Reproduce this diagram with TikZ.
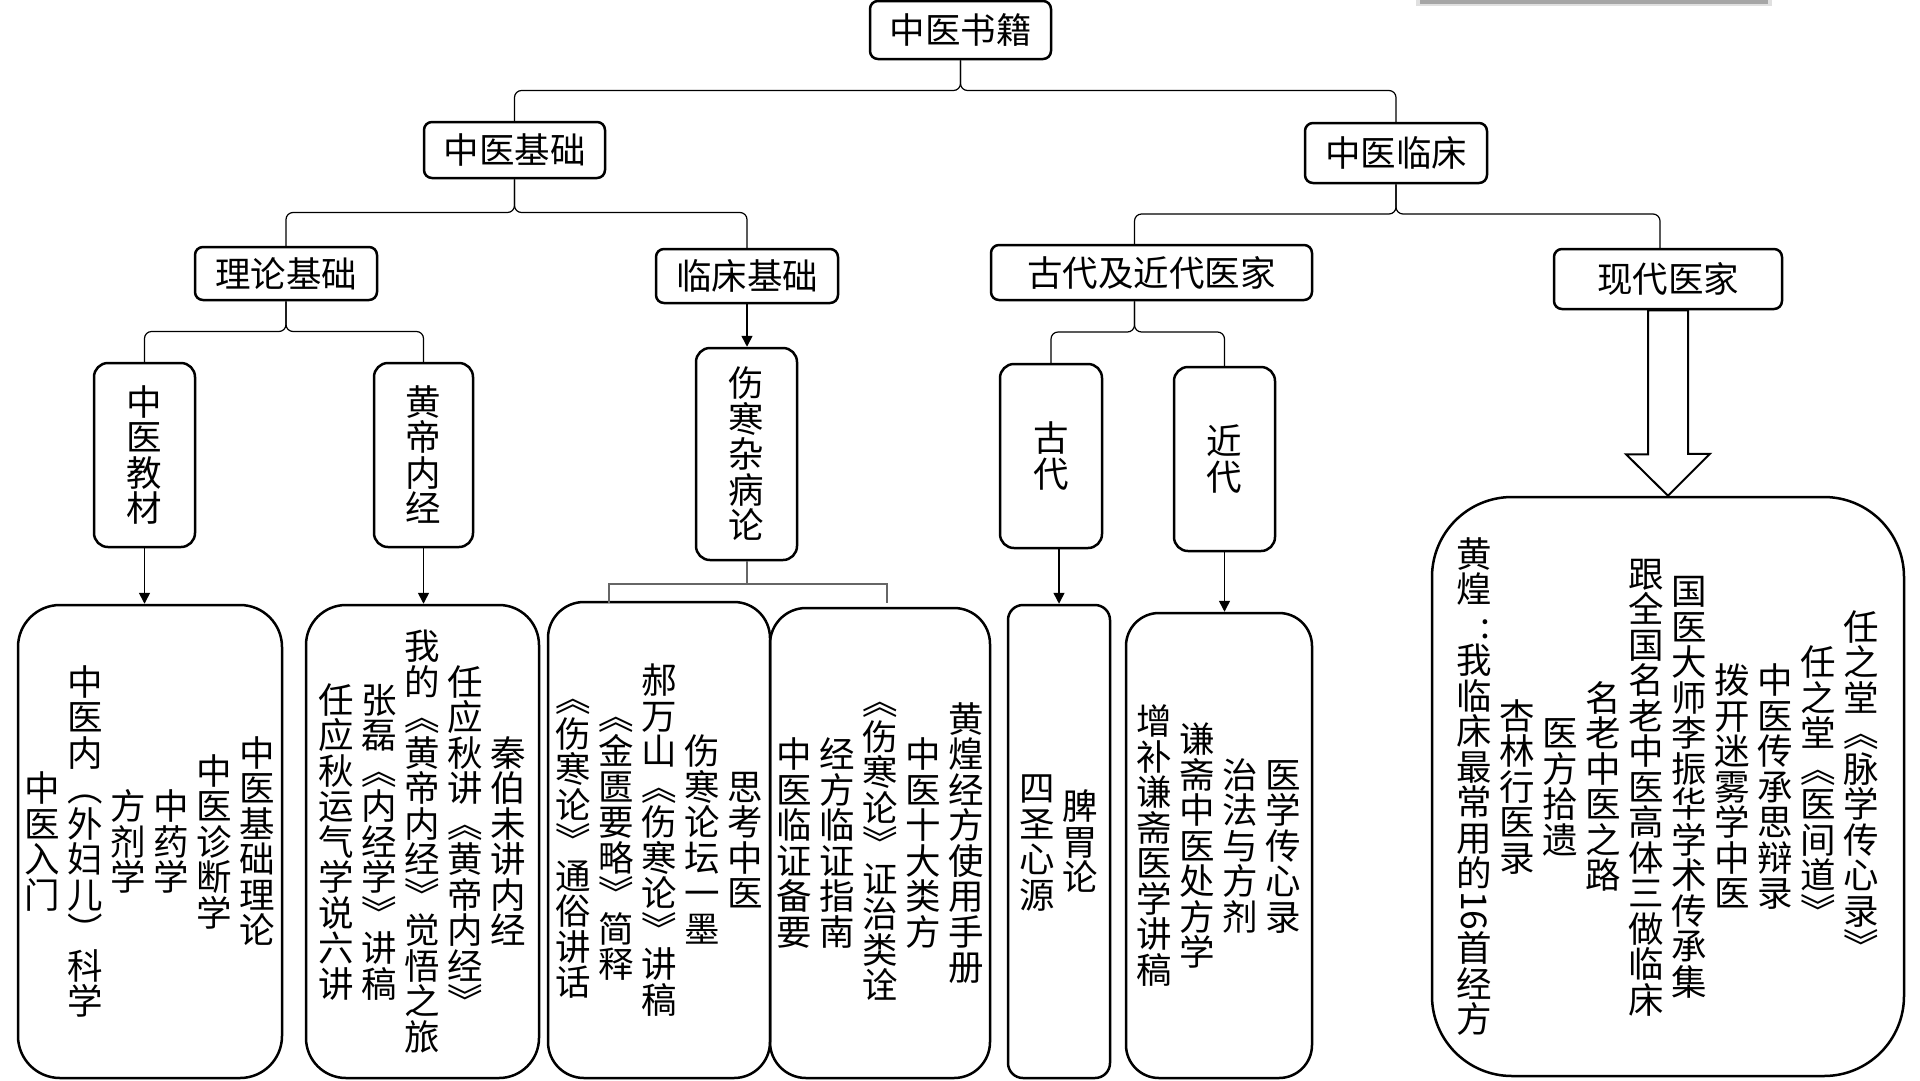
\documentclass[tikz,border=0pt]{standalone}
\usepackage{fontspec}
\usepackage{graphicx}
\newfontfamily\cjkfont{Noto Sans CJK SC}
\usetikzlibrary{arrows.meta,calc}

% vertical columns, first column on the right
\ExplSyntaxOn
\seq_new:N \l__vt_cols_seq
\cs_new_protected:Npn \__vt_column:n #1
  {
    \hbox_to_wd:nn { 43pt }
      {
        \hss
        \vbox_to_ht:nn { 540pt }
          {
            \vss
            \offinterlineskip
            \tl_map_inline:nn {#1}
              {
                \hbox_to_wd:nn { 1em }
                  { \hss \tex_vrule:D height .88em depth .12em width \c_zero_dim \scan_stop: ##1 \hss }
              }
            \vss
          }
        \hss
      }
  }
\NewDocumentCommand \vtext { m }
  {
    \seq_set_from_clist:Nn \l__vt_cols_seq {#1}
    \seq_reverse:N \l__vt_cols_seq
    \hbox:n { \seq_map_function:NN \l__vt_cols_seq \__vt_column:n }
  }
\ExplSyntaxOff
\newcommand\sidenum[1]{\rotatebox[origin=c]{-90}{#1}}

\begin{document}
\begin{tikzpicture}[x=1pt,y=-1pt,
    box/.style={draw, line width=2.5pt, rounded corners=8pt, inner sep=0pt,
      font=\cjkfont\fontsize{35.5pt}{43pt}\selectfont},
    vbox/.style={draw, line width=2.5pt, rounded corners=14pt, inner sep=0pt},
    vtxt/.style={inner sep=0pt, font=\cjkfont\fontsize{35.5pt}{35.5pt}\selectfont},
    brace/.style={line width=1.2pt, rounded corners=7pt},
    arr/.style={line width=1.5pt, -{Triangle[length=11pt,width=11pt]}},
    fork/.style={line width=2pt, black!60},
    fatarr/.style={line width=2pt, fill=white, miter limit=10}]
    \useasboundingbox[fill=white] (0,0) rectangle (1920,1080);

    % Shadow at the top
    \fill[black!12] (1416,0) rectangle (1772,6);
    \fill[black!35] (1420,0) rectangle (1768,3.5);

    % Title levels
    \node[box, minimum width=181pt, minimum height=58pt] (root) at (960.5,30) {中医书籍};
    \node[box, minimum width=181pt, minimum height=56pt] (base) at (514.5,150) {中医基础};
    \node[box, minimum width=182pt, minimum height=60pt] (clin) at (1396,153) {中医临床};
    \node[box, minimum width=182pt, minimum height=53pt] (theory) at (286,273.5) {理论基础};
    \node[box, minimum width=182pt, minimum height=54pt] (practice) at (747,276) {临床基础};
    \node[box, minimum width=321pt, minimum height=55pt] (doctors) at (1151.5,272.5) {古代及近代医家};
    \node[box, minimum width=228pt, minimum height=60pt] (modern) at (1668,279) {现代医家};

    % Vertical labels
    \node[vbox, minimum width=101pt, minimum height=184pt] (textbook) at (144.5,455) {};
    \node[vtxt] (textbook-t) at (textbook) {\vtext{中医教材}};
    \node[vbox, minimum width=99pt, minimum height=184pt] (neijing) at (423.5,455) {};
    \node[vtxt] (neijing-t) at (neijing) {\vtext{黄帝内经}};
    \node[vbox, minimum width=101pt, minimum height=212pt] (shanghan) at (746.5,454) {};
    \node[vtxt] (shanghan-t) at (shanghan) {\vtext{伤寒杂病论}};
    \node[vbox, minimum width=102pt, minimum height=184pt] (ancient) at (1051,456) {};
    \node[vtxt] (ancient-t) at (ancient) {\vtext{古代}};
    \node[vbox, minimum width=101pt, minimum height=184pt] (recent) at (1224.5,459) {};
    \node[vtxt] (recent-t) at (recent) {\vtext{近代}};

    % Book lists
    \node[vbox, rounded corners=42pt, minimum width=264pt, minimum height=473pt] (textbook-list) at (150,841.5) {};
    \node[vtxt] (textbook-list-t) at (textbook-list)
      {\vtext{中医基础理论,中医诊断学,中药学,方剂学,中医内︵外妇儿︶科学,中医入门}};
    \node[vbox, rounded corners=40pt, minimum width=233pt, minimum height=473pt] (neijing-list) at (422.5,841.5) {};
    \node[vtxt] (neijing-list-t) at (neijing-list)
      {\vtext{秦伯未讲内经,任应秋讲︽黄帝内经︾,我的︽黄帝内经︾觉悟之旅,张磊︽内经学︾讲稿,任应秋运气学说六讲}};
    \node[vbox, rounded corners=36pt, minimum width=222pt, minimum height=476pt] (shanghan-list1) at (659,840) {};
    \node[vtxt] (shanghan-list1-t) at (shanghan-list1)
      {\vtext{思考中医,伤寒论坛一墨,郝万山︽伤寒论︾讲稿,︽金匮要略︾简释,︽伤寒论︾通俗讲话}};
    \node[vbox, rounded corners=36pt, minimum width=220pt, minimum height=470pt] (shanghan-list2) at (880,843) {};
    \node[vtxt] (shanghan-list2-t) at (shanghan-list2)
      {\vtext{黄煌经方使用手册,中医十大类方,︽伤寒论︾证治类诠,经方临证指南,中医临证备要}};
    \node[vbox, rounded corners=15pt, minimum width=102pt, minimum height=473pt] (ancient-list) at (1059,841.5) {};
    \node[vtxt] (ancient-list-t) at (ancient-list) {\vtext{脾胃论,四圣心源}};
    \node[vbox, rounded corners=33pt, minimum width=186pt, minimum height=465pt] (recent-list) at (1219,845.5) {};
    \node[vtxt] (recent-list-t) at (recent-list)
      {\vtext{医学传心录,治法与方剂,谦斋中医处方学,增补谦斋医学讲稿}};
    \node[vbox, rounded corners=80pt, minimum width=472pt, minimum height=579pt] (modern-list) at (1668,786.5) {};
    \node[vtxt] (modern-list-t) at (modern-list)
      {\vtext{任之堂︽脉学传心录︾,任之堂︽医间道︾,中医传承思辩录,拨开迷雾学中医,国医大师李振华学术传承集,跟全国名老中医高体三做临床,名老中医之路,医方拾遗,杏林行医录,黄煌{\hspace{.6em}:}我临床最常用的{\sidenum{16}}首经方}};

    % Braces
    \coordinate (m1) at ($(root.south)!.5!(root.south |- base.north)$);
    \draw[brace] (base.north) |- (m1) -- (root.south);
    \draw[brace] (clin.north) |- (m1) -- (root.south);
    \coordinate (m2) at ($(base.south)!.5!(base.south |- theory.north)$);
    \draw[brace] (theory.north) |- (m2) -- (base.south);
    \draw[brace] (practice.north) |- (m2) -- (base.south);
    \coordinate (m3) at ($(clin.south)!.5!(clin.south |- doctors.north)$);
    \draw[brace] ([xshift=-17pt]doctors.north) |- (m3) -- (clin.south);
    \draw[brace] ([xshift=-8pt]modern.north) |- (m3) -- (clin.south);
    \coordinate (m4) at ($(theory.south)!.5!(theory.south |- textbook.north)$);
    \draw[brace] (textbook.north) |- (m4) -- (theory.south);
    \draw[brace] (neijing.north) |- (m4) -- (theory.south);
    \coordinate (gj) at ([xshift=-17pt]doctors.south);
    \coordinate (m5) at ($(gj)!.5!(gj |- ancient.north)$);
    \draw[brace] (ancient.north) |- (m5) -- (gj);
    \draw[brace] (recent.north) |- (m5) -- (gj);

    % Arrows
    \draw[arr] (practice.south) -- (practice.south |- shanghan.north);
    \foreach \a in {textbook, neijing, recent}
        \draw[arr] (\a.south) -- (\a.south |- \a-list.north);
    \draw[arr] (ancient-list.north |- ancient.south) -- (ancient-list.north);

    % Fork under shanghan
    \coordinate (fork) at ($(shanghan.south)+(0,23)$);
    \coordinate (forkl) at (609,603);
    \coordinate (forkr) at (887,603);
    \draw[fork] (shanghan.south) -- (fork);
    \draw[fork] (forkl) |- (fork) -| (forkr);

    % Big arrow
    \draw[fatarr] ([xshift=-20pt]modern.south) -- ++(0,144) -- ++(-22,0) -- (modern-list.north)
        -- ++(42,-42) -- ++(-22,0) -- ([xshift=20pt]modern.south) -- cycle;
\end{tikzpicture}
\end{document}
